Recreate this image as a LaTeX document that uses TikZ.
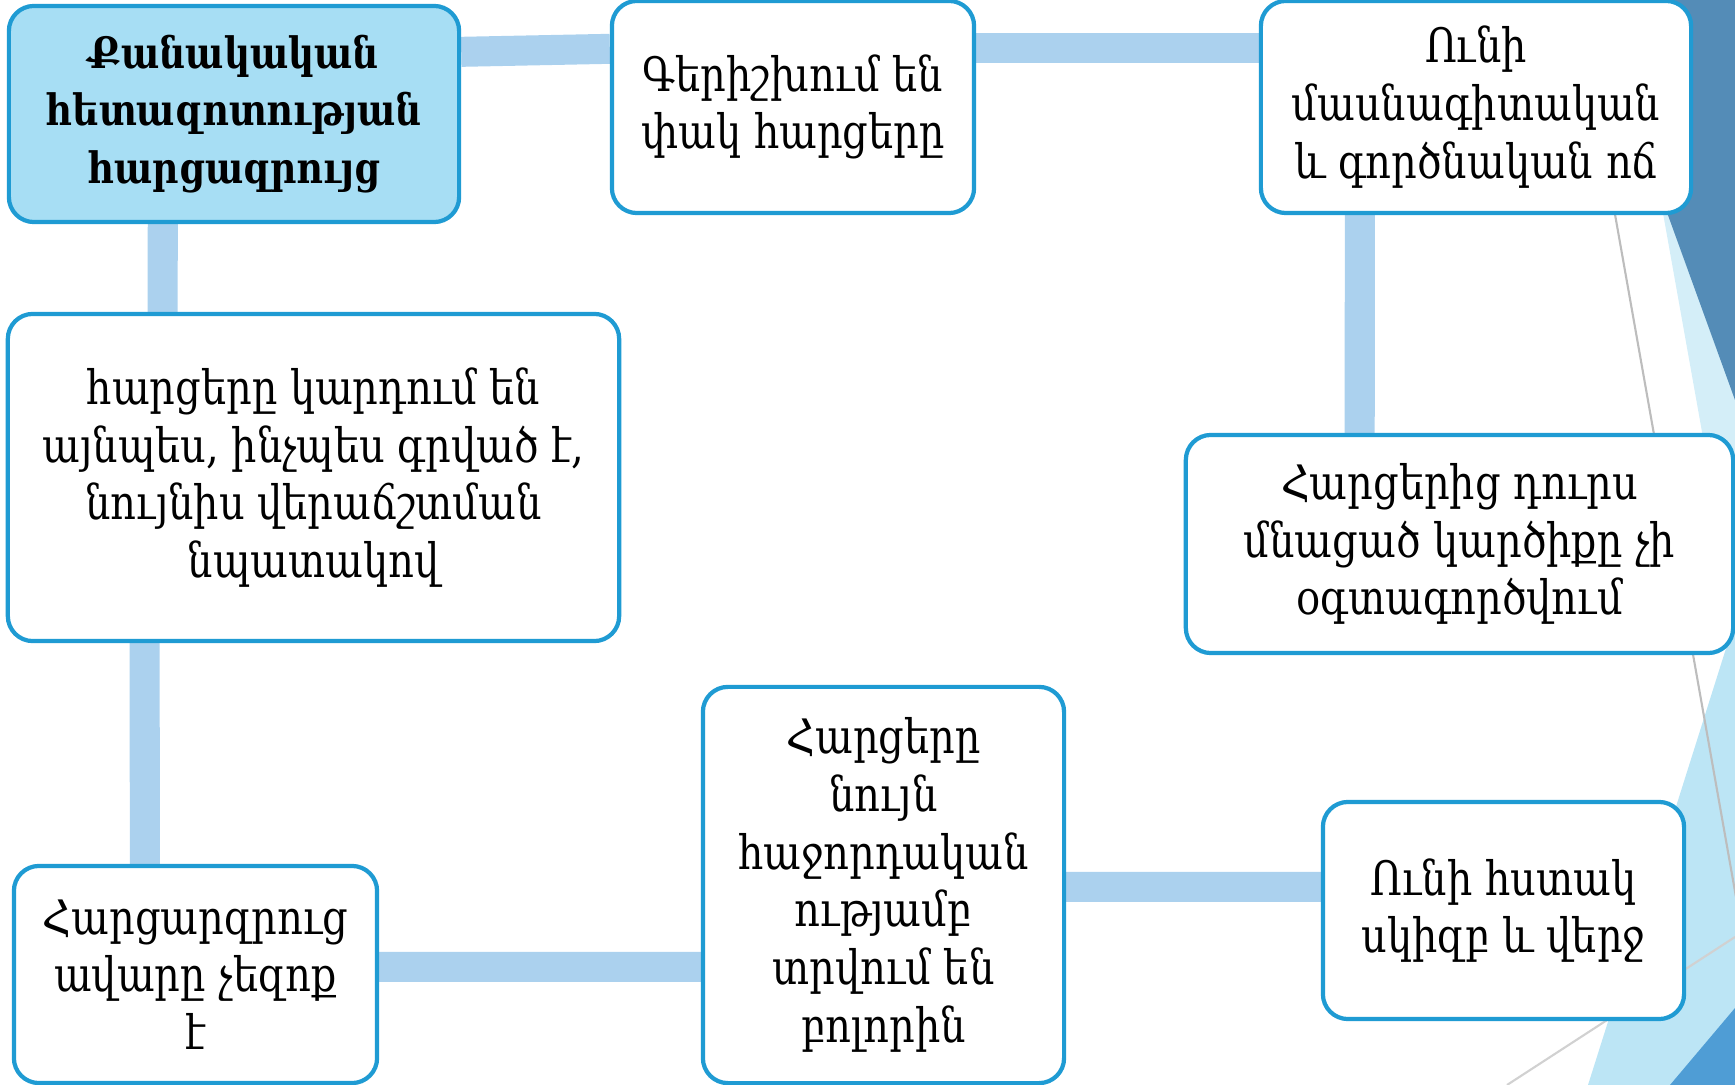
\documentclass[tikz,border=0pt]{standalone}
\usepackage{fontspec}
\setmainfont[FakeStretch=0.84]{DejaVu Serif}
\usepackage{tikz}
\usetikzlibrary{calc}

\definecolor{boxline}{HTML}{1F9BD3}
\definecolor{boxfill}{HTML}{A7DEF4}
\definecolor{linkblue}{HTML}{ABD1EE}
\definecolor{facetdark}{HTML}{548CB7}
\definecolor{facetpale}{HTML}{D4EEF8}
\definecolor{facetlight}{HTML}{BCE5F5}
\definecolor{facetmid}{HTML}{4F9DD5}
\definecolor{facetgrey}{HTML}{BDBDBD}

\pgfdeclarelayer{background}
\pgfsetlayers{background,main}

\begin{document}
\begin{tikzpicture}[x=0.01cm,y=-0.01cm]
  \tikzstyle{card}=[draw=boxline, line width=1.2pt, rounded corners=0.25cm, fill=white,
    align=center, inner sep=0pt, font=\fontsize{13.5}{16.4}\selectfont]
  \tikzstyle{titlecard}=[card, fill=boxfill, font=\bfseries\fontsize{12.3}{16.4}\selectfont]
  \tikzstyle{link}=[linkblue, line width=0.3cm]
  \useasboundingbox (0,0) rectangle (1735,1085);
  \clip (0,0) rectangle (1735,1085);
  % facets on the right
  \fill [facetpale] (1625,0) -- (1735,0) -- (1735,617) -- cycle;
  \fill [facetdark] (1590,0) -- (1735,0) -- (1735,400) -- cycle;
  \fill [facetlight] (1588,1085) -- (1735,620) -- (1735,1085) -- cycle;
  \fill [facetmid] (1670,1085) -- (1735,1008) -- (1735,1085) -- cycle;
  \draw [facetgrey, line width=0.6pt] (1577,0) -- (1736,897);
  \draw [facetgrey!70, line width=0.6pt] (1507,1085) -- (1735,937);
  % boxes
  \node [titlecard, minimum width=4.5cm, minimum height=2.16cm] (quant) at (234,114)
    {Քանակական\\հետազոտության\\հարցազրույց};
  \node [card, minimum width=3.62cm, minimum height=2.12cm] (closed) at (793,107)
    {Գերիշխում են\\փակ հարցերը};
  \node [card, minimum width=4.3cm, minimum height=2.12cm] (style) at (1476,107)
    {Ունի\\մասնագիտական\\և գործնական ոճ};
  \node [card, minimum width=6.11cm, minimum height=3.27cm] (reading) at (313.5,477.5)
    {հարցերը կարդում են\\այնպես, ինչպես գրված է,\\նույնիս վերաճշտման\\նպատակով};
  \node [card, minimum width=5.47cm, minimum height=2.18cm] (opinion) at (1459.5,544)
    {Հարցերից դուրս\\մնացած կարծիքը չի\\օգտագործվում};
  \node [card, minimum width=3.61cm, minimum height=3.96cm] (order) at (883.5,885)
    {Հարցերը\\նույն\\հաջորդական\\ությամբ\\տրվում են\\բոլորին};
  \node [card, minimum width=3.61cm, minimum height=2.17cm] (frame) at (1503.5,910.5)
    {Ունի հստակ\\սկիզբ և վերջ};
  \node [card, minimum width=3.63cm, minimum height=2.17cm] (neutral) at (195.5,974.5)
    {Հարցարզրուց\\ավարը չեզոք\\է};
  % links
  \begin{pgfonlayer}{background}
    \draw [link] ($(quant.north east)+(0,48)$) -- ($(closed.north west)+(0,50)$);
    \draw [link] ($(closed.north east)+(0,49)$) -- ($(style.north west)+(0,49)$);
    \draw [link] ($(quant.south west)+(156,0)$) -- ($(reading.north west)+(157,0)$);
    \draw [link] ($(style.south west)+(101,0)$) -- ($(opinion.north west)+(176,0)$);
    \draw [link] ($(reading.south west)+(139,0)$) -- ($(neutral.north west)+(133,0)$);
    \draw [link] ($(neutral.north east)+(0,103)$) -- ($(order.north west)+(0,282)$);
    \draw [link] ($(order.north east)+(0,202)$) -- ($(frame.north west)+(0,87)$);
  \end{pgfonlayer}
\end{tikzpicture}
\end{document}
